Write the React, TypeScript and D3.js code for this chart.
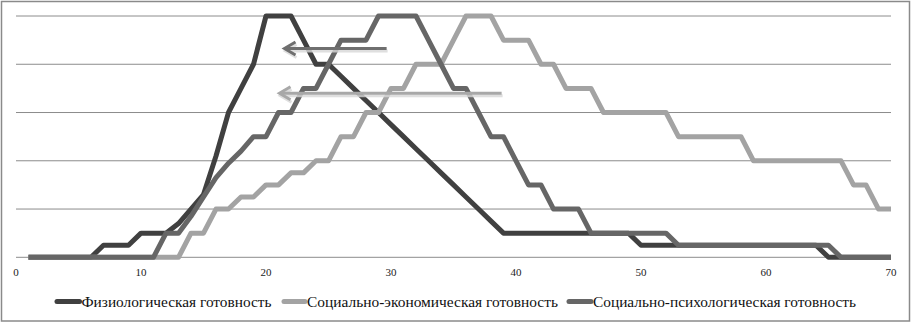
import React from "react";
import * as d3 from "d3";

const xValues: number[] = d3.range(1, 71);

const physiological: number[] = [
  0, 0, 0, 0, 0, 0, 0.5, 0.5, 0.5, 1, 1, 1, 1.4, 2, 2.6, 4.2, 6, 7, 8, 10,
  10, 10, 9, 8, 8, 7.5, 7, 6.5, 6, 5.5, 5, 4.5, 4, 3.5, 3, 2.5, 2, 1.5, 1, 1,
  1, 1, 1, 1, 1, 1, 1, 1, 1, 0.5, 0.5, 0.5, 0.5, 0.5, 0.5, 0.5, 0.5, 0.5, 0.5, 0.5,
  0.5, 0.5, 0.5, 0.5, 0, 0, 0, 0, 0, 0,
];

const socioEconomic: number[] = [
  0, 0, 0, 0, 0, 0, 0, 0, 0, 0, 0, 0, 0, 1, 1, 2, 2, 2.5, 2.5, 3,
  3, 3.5, 3.5, 4, 4, 5, 5, 6, 6, 7, 7, 8, 8, 8, 9, 10, 10, 10, 9, 9,
  9, 8, 8, 7, 7, 7, 6, 6, 6, 6, 6, 6, 5, 5, 5, 5, 5, 5, 4, 4,
  4, 4, 4, 4, 4, 4, 3, 3, 2, 2,
];

const socioPsychological: number[] = [
  0, 0, 0, 0, 0, 0, 0, 0, 0, 0, 0, 1, 1, 1.7, 2.5, 3.3, 3.9, 4.4, 5, 5,
  6, 6, 7, 7, 8, 9, 9, 9, 10, 10, 10, 10, 9, 8, 7, 7, 6, 5, 5, 4,
  3, 3, 2, 2, 2, 1, 1, 1, 1, 1, 1, 1, 0.5, 0.5, 0.5, 0.5, 0.5, 0.5, 0.5, 0.5,
  0.5, 0.5, 0.5, 0.5, 0.5, 0, 0, 0, 0, 0,
];

const seriesNames: string[] = [
  "Физиологическая готовность",
  "Социально-экономическая готовность",
  "Социально-психологическая готовность",
];
const seriesColors: string[] = ["#404040", "#a3a3a3", "#666666"];

const xTicks: number[] = [0, 10, 20, 30, 40, 50, 60, 70];
const yGrid: number[] = [0, 2, 4, 6, 8, 10];

// annotation arrows: [fromX, toX, yValue]
const arrows: { from: number; to: number; y: number; color: string }[] = [
  { from: 29.65, to: 21.4, y: 8.65, color: "#6f6f6f" },
  { from: 38.85, to: 21.0, y: 6.8, color: "#a8a8a8" },
];

const SERIF = "'Liberation Serif', 'Times New Roman', serif";

export default function App() {
  const W = 911;
  const H = 322;
  const x = d3.scaleLinear().domain([0, 70]).range([16, 891]);
  const y = d3.scaleLinear().domain([0, 10]).range([257.3, 16]);

  const allSeries = [physiological, socioEconomic, socioPsychological];
  const line = d3
    .line<number>()
    .x((_, i) => x(xValues[i]))
    .y((d) => y(d))
    .curve(d3.curveLinear);

  const legendItems = [
    { mx: 55, tx: 81.5, w: 190 },
    { mx: 282, tx: 307, w: 251 },
    { mx: 567, tx: 593, w: 263 },
  ];

  return (
    <svg
      width={W}
      height={H}
      style={{ position: "absolute", left: 0, top: 0, background: "#fff" }}
    >
      <rect x={0} y={0} width={W} height={H} fill="#fff" />
      <rect x={1.5} y={1.5} width={W - 3} height={H - 2.5} fill="none" stroke="#8a8a8a" strokeWidth={1.5} />
      {yGrid.map((g) => (
        <line key={g} x1={x(0)} x2={x(70)} y1={y(g)} y2={y(g)} stroke="#8c8c8c" strokeWidth={1} />
      ))}
      {xTicks.map((t) => (
        <text key={t} x={x(t)} y={275.5} textAnchor="middle" fill="#222" style={{ fontFamily: SERIF, fontSize: "11px" }}>
          {t}
        </text>
      ))}
      {allSeries.map((s, i) => (
        <path
          key={i}
          d={line(s) || ""}
          fill="none"
          stroke={seriesColors[i]}
          strokeWidth={5}
          strokeLinejoin="round"
          strokeLinecap="butt"
        />
      ))}
      {arrows.map((a, i) => {
        const x1 = x(a.from);
        const x2 = x(a.to);
        const yy = y(a.y);
        return (
          <g key={i}>
            <g stroke="#d8d8d8" strokeWidth={3} fill="none" opacity={0.8}>
              <line x1={x1 + 1} x2={x2 + 3} y1={yy + 2.5} y2={yy + 2.5} />
              <polyline points={`${x2 + 13},${yy - 4} ${x2 + 2},${yy + 2.5} ${x2 + 13},${yy + 9}`} />
            </g>
            <g stroke={a.color} strokeWidth={3} fill="none">
              <line x1={x1} x2={x2 + 2} y1={yy} y2={yy} />
              <polyline points={`${x2 + 12},${yy - 6.5} ${x2 + 1},${yy} ${x2 + 12},${yy + 6.5}`} strokeLinejoin="miter" />
            </g>
          </g>
        );
      })}
      {legendItems.map((it, i) => (
        <g key={i}>
          <line x1={it.mx + 2} x2={it.tx - 2} y1={301.5} y2={301.5} stroke={seriesColors[i]} strokeWidth={5} strokeLinecap="round" />
          <text x={it.tx} y={306.5} fill="#111" textLength={it.w} lengthAdjust="spacingAndGlyphs" style={{ fontFamily: SERIF, fontSize: "15px" }}>
            {seriesNames[i]}
          </text>
        </g>
      ))}
    </svg>
  );
}
